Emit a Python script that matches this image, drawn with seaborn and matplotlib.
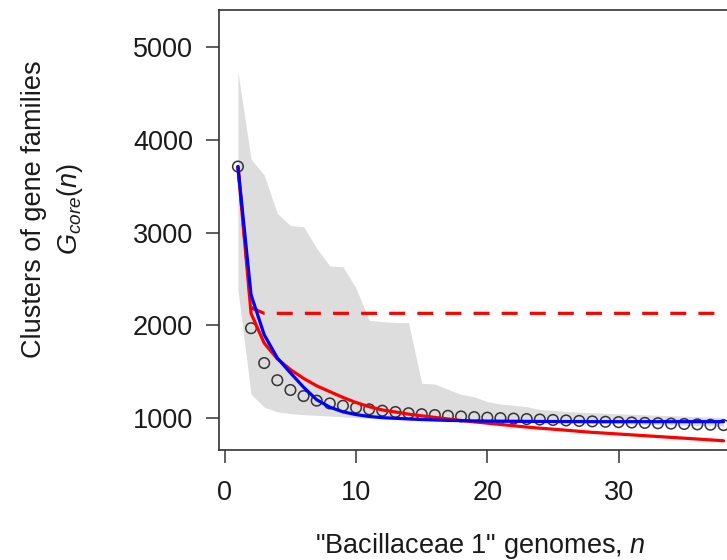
import matplotlib
matplotlib.use("Agg")
import matplotlib.pyplot as plt
import numpy as np
import pandas as pd
import seaborn as sns

# Number of genomes sampled
genomes = list(range(1, 39))

# Mean core-genome size over permutations
core_mean = [3710, 1970, 1595, 1410, 1305, 1240, 1190, 1160, 1135, 1115,
             1097, 1082, 1068, 1055, 1044, 1035, 1027, 1020, 1013, 1007,
             1002, 997, 992, 987, 982, 977, 972, 967, 963, 959,
             955, 951, 947, 943, 939, 935, 931, 927]

# Min / max envelope of the permutations
range_low = [2380, 1260, 1120, 1070, 1050, 1040, 1032, 1025, 1016, 1008,
             1002, 997, 993, 989, 985, 982, 979, 976, 973, 970,
             967, 964, 961, 958, 955, 952, 949, 946, 943, 940,
             937, 934, 931, 928, 925, 922, 919, 916]
range_high = [4730, 3790, 3618, 3206, 3075, 3062, 2830, 2639, 2631, 2400,
              2055, 2040, 2032, 2030, 1377, 1370, 1312, 1258, 1232, 1179,
              1154, 1140, 1125, 1095, 1085, 1075, 1067, 1060, 1054, 1048,
              1043, 1038, 1033, 1028, 1023, 1018, 1013, 1008]

# Fitted curves
fit_red = [3710, 2130, 1810, 1640, 1525, 1430, 1350, 1287, 1225, 1170,
           1125, 1090, 1068, 1045, 1027, 1010, 993, 977, 962, 948,
           934, 920, 906, 894, 883, 872, 860, 849, 840, 831,
           822, 813, 804, 795, 786, 777, 768, 758]
fit_dashed = [3710, 2190] + [2130] * 36
fit_blue = [3710, 2330, 1900, 1650, 1490, 1335, 1200, 1120, 1070, 1040,
            1020, 1007, 1000, 993, 987, 982, 978, 975, 972, 970,
            969, 968, 967, 966, 965, 965, 965, 964, 964, 964,
            964, 964, 964, 964, 964, 964, 964, 964]

df = pd.DataFrame({
    "n": genomes,
    "mean": core_mean,
    "low": range_low,
    "high": range_high,
    "red": fit_red,
    "dashed": fit_dashed,
    "blue": fit_blue,
})

sns.set_style("ticks")
plt.rcParams["font.family"] = ["Liberation Sans", "DejaVu Sans"]
plt.rcParams["mathtext.fontset"] = "custom"
plt.rcParams["mathtext.it"] = "Liberation Sans:italic"
plt.rcParams["mathtext.rm"] = "Liberation Sans"

ink = "#1a1a1a"
fs = 19.5

fig = plt.figure(figsize=(7.27, 5.6), dpi=100)
ax = fig.add_axes([218.5 / 727, 1 - 450 / 560, (743 - 218.5) / 727, 440 / 560])

ax.fill_between(df["n"], df["low"], df["high"], color="#DDDDDD", lw=0, zorder=1)

sns.scatterplot(data=df, x="n", y="mean", marker="o", s=58,
                facecolors="none", edgecolors="#333333", linewidth=1.1,
                ax=ax, zorder=3, legend=False)

sns.lineplot(data=df, x="n", y="dashed", color="#FF0000", lw=2.3,
             linestyle=(0, (5.0, 3.8)), ax=ax, zorder=4)
sns.lineplot(data=df, x="n", y="red", color="#FF0000", lw=2.3, ax=ax, zorder=5)
sns.lineplot(data=df, x="n", y="blue", color="#0000FF", lw=2.3, ax=ax, zorder=6)

ax.set_xlim(-0.48, 39.48)
ax.set_ylim(659, 5395)
ax.set_xticks([0, 10, 20, 30])
ax.set_yticks([1000, 2000, 3000, 4000, 5000])
ax.set_xlabel("")
ax.set_ylabel("")

for s in ax.spines.values():
    s.set_color("#333333")
    s.set_linewidth(1.2)

ax.tick_params(axis="both", length=9.4, width=1.1, color="#333333",
               labelsize=fs, labelcolor=ink)
ax.tick_params(axis="y", pad=9)
ax.tick_params(axis="x", pad=12)

fig.text(34 / 727, 1 - 209 / 560, "Clusters of gene families", rotation=90,
         ha="center", va="center", fontsize=fs, color=ink)
fig.text(70 / 727, 1 - 209 / 560, r"$\mathit{G_{core}(n)}$", rotation=90,
         ha="center", va="center", fontsize=fs, color=ink)
fig.text(480.5 / 727, 1 - 546 / 560, '"Bacillaceae 1" genomes, $\\mathit{n}$',
         ha="center", va="center", fontsize=fs, color=ink)

fig.savefig("out.png", dpi=100)
